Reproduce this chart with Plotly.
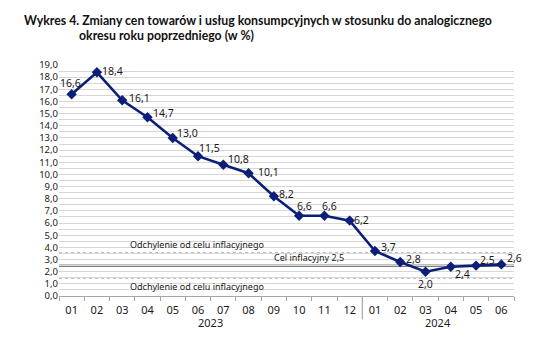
import plotly.graph_objects as go

# Year-on-year change in consumer prices (%)
months = ["01", "02", "03", "04", "05", "06", "07", "08", "09", "10", "11", "12",
          "01", "02", "03", "04", "05", "06"]
years = ["2023", "2024"]
months_per_year = [12, 6]
cpi = [16.6, 18.4, 16.1, 14.7, 13.0, 11.5, 10.8, 10.1, 8.2, 6.6, 6.6, 6.2,
       3.7, 2.8, 2.0, 2.4, 2.5, 2.6]
target = 2.5
tolerance = 1.0
y_ticks = list(range(0, 20))

# label placement: (xanchor, xshift px, yshift px)
label_style = [
    ("center", -1, 11), ("left", 3, 1), ("left", 5, 2), ("left", 4, 4),
    ("left", 2, 5), ("left", -1, 8), ("left", 3, 6), ("left", 7, 1),
    ("left", 3, 2), ("center", 5, 10), ("center", 5, 10), ("left", 2, 1),
    ("left", 4, 4), ("left", 3.5, 3), ("center", 0, -12), ("left", 2, -7),
    ("left", 2, 6), ("left", 3.5, 6),
]

FONT = "Noto Sans"
NAVY = "#0c1f78"
GRID = "#d6d6d6"
AXIS = "#a6a6a6"
TXT = "#1a1a1a"

xs = list(range(len(cpi)))

fig = go.Figure()
fig.add_trace(go.Scatter(
    x=xs, y=cpi, mode="lines+markers",
    line=dict(color=NAVY, width=2.6),
    marker=dict(symbol="diamond", size=8, color=NAVY),
    hoverinfo="skip", showlegend=False,
))

annotations = []
for x, v, (anchor, dx, dy) in zip(xs, cpi, label_style):
    annotations.append(dict(
        x=x, y=v, xref="x", yref="y",
        text=f"{v:.1f}".replace(".", ","), showarrow=False,
        xanchor=anchor, yanchor="middle", xshift=dx, yshift=dy,
        font=dict(family=FONT, size=10.5, color=TXT),
    ))

# inflation target and tolerance band
shapes = [
    dict(type="line", xref="paper", x0=0, x1=1, yref="y", y0=target, y1=target,
         line=dict(color="black", width=1.6), layer="between"),
    dict(type="line", xref="paper", x0=0, x1=1, yref="y",
         y0=target + tolerance, y1=target + tolerance,
         line=dict(color="black", width=1.2, dash="dot"), layer="between"),
    dict(type="line", xref="paper", x0=0, x1=1, yref="y",
         y0=target - tolerance, y1=target - tolerance,
         line=dict(color="black", width=1.2, dash="dot"), layer="between"),
]
band_text = "Odchylenie od celu inflacyjnego"
annotations += [
    dict(x=4.95, y=target + tolerance, xref="x", yref="y", text=band_text,
         showarrow=False, xanchor="center", yanchor="bottom", yshift=0,
         font=dict(family=FONT, size=9, color=TXT)),
    dict(x=4.95, y=target - tolerance, xref="x", yref="y", text=band_text,
         showarrow=False, xanchor="center", yanchor="top", yshift=0,
         font=dict(family=FONT, size=9, color=TXT)),
    dict(x=9.4, y=target, xref="x", yref="y",
         text=f"Cel inflacyjny {target:.1f}".replace(".", ","),
         showarrow=False, xanchor="center", yanchor="bottom", yshift=0,
         font=dict(family=FONT, size=9, color=TXT)),
]

# year labels and the divider between years
start = 0
for yr, n in zip(years, months_per_year):
    annotations.append(dict(
        x=start + (n - 1) / 2, y=-0.114, xref="x", yref="paper", text=yr,
        showarrow=False, xanchor="center", yanchor="middle",
        font=dict(family=FONT, size=11, color=TXT)))
    start += n
shapes.append(dict(type="line", xref="x", x0=months_per_year[0] - 0.5,
                   x1=months_per_year[0] - 0.5, yref="paper", y0=0, y1=-0.102,
                   line=dict(color=AXIS, width=1.2)))

# title
annotations += [
    dict(x=-0.0813, y=1.194, xref="paper", yref="paper", showarrow=False,
         xanchor="left", yanchor="middle",
         text="<b>Wykres 4. Zmiany cen towarów i usług konsumpcyjnych w stosunku do analogicznego</b>",
         font=dict(family="Lato", size=12.3, color="#111")),
    dict(x=0.0396, y=1.1296, xref="paper", yref="paper", showarrow=False,
         xanchor="left", yanchor="middle",
         text="<b>okresu roku poprzedniego (w %)</b>",
         font=dict(family="Lato", size=12.3, color="#111")),
]

fig.update_layout(
    width=546, height=339,
    margin=dict(l=59, r=32, t=65, b=42.5),
    paper_bgcolor="white", plot_bgcolor="white",
    separators=", ",
    font=dict(family=FONT, color=TXT),
    shapes=shapes, annotations=annotations,
    xaxis=dict(
        range=[-0.5, len(cpi) - 0.5], tickmode="array", tickvals=xs,
        ticktext=months, ticks="", showgrid=False, zeroline=False,
        showline=True, linecolor=AXIS, linewidth=1.2,
        tickfont=dict(family=FONT, size=11, color=TXT),
        ticklabelstandoff=4,
        minor=dict(tickmode="linear", tick0=-0.5, dtick=1, ticks="outside",
                   ticklen=4, tickcolor=AXIS, tickwidth=1.2, showgrid=False),
        fixedrange=True,
    ),
    yaxis=dict(
        range=[0, 19], tickmode="array", tickvals=y_ticks, tickformat=".1f",
        showgrid=True, gridcolor=GRID, gridwidth=1.3, zeroline=False,
        showline=False, ticks="",
        tickfont=dict(family=FONT, size=9.5, color=TXT),
        minor=dict(tickmode="linear", tick0=0, dtick=0.5, showgrid=True,
                   gridcolor=GRID, gridwidth=1.3),
        fixedrange=True,
    ),
)

fig.write_html("out.html")
